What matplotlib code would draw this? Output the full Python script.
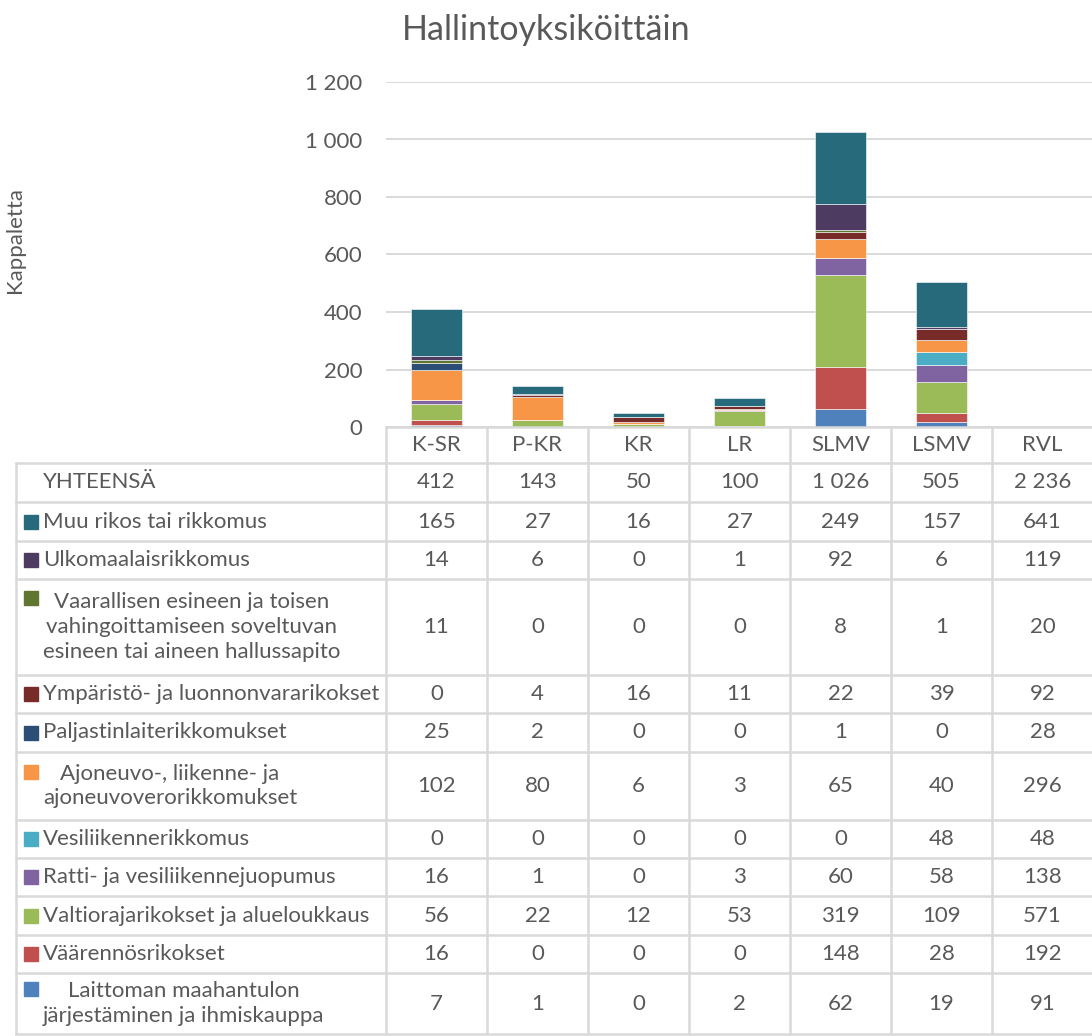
import matplotlib.pyplot as plt

plt.rcParams['font.family'] = ['Lato', 'DejaVu Sans']

units = ["K-SR", "P-KR", "KR", "LR", "SLMV", "LSMV", "RVL"]
totals = [412, 143, 50, 100, 1026, 505, 2236]

# series from the bottom of the stack upwards
labels = [
    "Laittoman maahantulon\njärjestäminen ja ihmiskauppa",
    "Väärennösrikokset",
    "Valtiorajarikokset ja alueloukkaus",
    "Ratti- ja vesiliikennejuopumus",
    "Vesiliikennerikkomus",
    "Ajoneuvo-, liikenne- ja\najoneuvoverorikkomukset",
    "Paljastinlaiterikkomukset",
    "Ympäristö- ja luonnonvararikokset",
    "Vaarallisen esineen ja toisen\nvahingoittamiseen soveltuvan\nesineen tai aineen hallussapito",
    "Ulkomaalaisrikkomus",
    "Muu rikos tai rikkomus",
]
laittoman = [7, 1, 0, 2, 62, 19, 91]
vaarennos = [16, 0, 0, 0, 148, 28, 192]
valtioraja = [56, 22, 12, 53, 319, 109, 571]
ratti = [16, 1, 0, 3, 60, 58, 138]
vesiliikenne = [0, 0, 0, 0, 0, 48, 48]
ajoneuvo = [102, 80, 6, 3, 65, 40, 296]
paljastin = [25, 2, 0, 0, 1, 0, 28]
ymparisto = [0, 4, 16, 11, 22, 39, 92]
vaarallinen = [11, 0, 0, 0, 8, 1, 20]
ulkomaalais = [14, 6, 0, 1, 92, 6, 119]
muu = [165, 27, 16, 27, 249, 157, 641]
values = [laittoman, vaarennos, valtioraja, ratti, vesiliikenne, ajoneuvo,
          paljastin, ymparisto, vaarallinen, ulkomaalais, muu]
colors = ["#4F81BD", "#C0504D", "#9BBB59", "#8064A2", "#4BACC6", "#F79646",
          "#2C4D75", "#772C2A", "#5F7530", "#4D3B62", "#276A7C"]

W, H = 1092, 1036
GREY = "#595959"
LINE = "#D9D9D9"
FS = 16

fig = plt.figure(figsize=(W / 100, H / 100), dpi=100)

# chart area (pixel layout converted to figure fractions)
x0, x1, ytop, ybot = 386, 1093, 82, 427
ax = fig.add_axes([x0 / W, 1 - ybot / H, (x1 - x0) / W, (ybot - ytop) / H])
n_bars = 6  # RVL column has no visible bar
bottom = [0] * n_bars
for vals, col in zip(values, colors):
    ax.bar(range(n_bars), vals[:n_bars], 0.5, bottom=bottom, color=col,
           edgecolor="white", linewidth=0.4, zorder=3)
    bottom = [b + v for b, v in zip(bottom, vals[:n_bars])]
ax.set_xlim(-0.5, len(units) - 0.5)
ax.set_ylim(0, 1200)
ax.set_yticks(range(0, 1201, 200))
ax.set_yticklabels([f"{t:,}".replace(",", " ") for t in range(0, 1201, 200)])
ax.tick_params(axis="y", length=0, pad=17, labelsize=FS, labelcolor=GREY)
ax.set_xticks([])
ax.grid(axis="y", color=LINE, linewidth=1.4, zorder=0)
for s in ax.spines.values():
    s.set_visible(False)

fig.text(546 / W, 1 - 30 / H, "Hallintoyksiköittäin", ha="center", va="center",
         fontsize=24.5, color=GREY)
fig.text(15 / W, 1 - 240 / H, "Kappaletta", rotation=90, ha="center",
         va="center", fontsize=FS, color=GREY)

# data table underneath
tab = fig.add_axes([0, 0, 1, 1])
tab.set_xlim(0, W)
tab.set_ylim(H, 0)
tab.axis("off")

col_w = (x1 - x0) / len(units)
row_edges = [463, 502, 541, 579, 675, 713, 752, 820, 858, 896, 935, 973, 1034]
lw = 1.8
tab.plot([x0, x1], [ybot, ybot], color=LINE, lw=lw)
for y in row_edges:
    tab.plot([16, x1], [y, y], color=LINE, lw=lw)
for i in range(len(units) + 1):
    tab.plot([x0 + i * col_w] * 2, [ybot, row_edges[-1]], color=LINE, lw=lw)
tab.plot([16, 16], [row_edges[0], row_edges[-1]], color=LINE, lw=lw)

for i, u in enumerate(units):
    tab.text(x0 + (i + 0.5) * col_w, (ybot + row_edges[0]) / 2, u,
             ha="center", va="center", fontsize=FS, color=GREY)

def fmt(v):
    return f"{v:,}".replace(",", " ")

rows = [("YHTEENSÄ", totals, None)] + list(zip(labels, values, colors))[::-1]
for r, (lab, vals, col) in enumerate(rows):
    top, bot = row_edges[r], row_edges[r + 1]
    yc = (top + bot) / 2
    nlines = lab.count("\n") + 1
    tab.text(43, yc, lab, ha="left", va="center", fontsize=FS, color=GREY,
             multialignment="center", linespacing=1.3)
    if col is not None:
        yfirst = yc - (nlines - 1) * 29 / 2
        tab.add_patch(plt.Rectangle((24, yfirst - 7), 14, 14, color=col))
    for i, v in enumerate(vals):
        tab.text(x0 + (i + 0.5) * col_w, yc, fmt(v), ha="center", va="center",
                 fontsize=FS, color=GREY)

fig.savefig("out.png", dpi=100)
